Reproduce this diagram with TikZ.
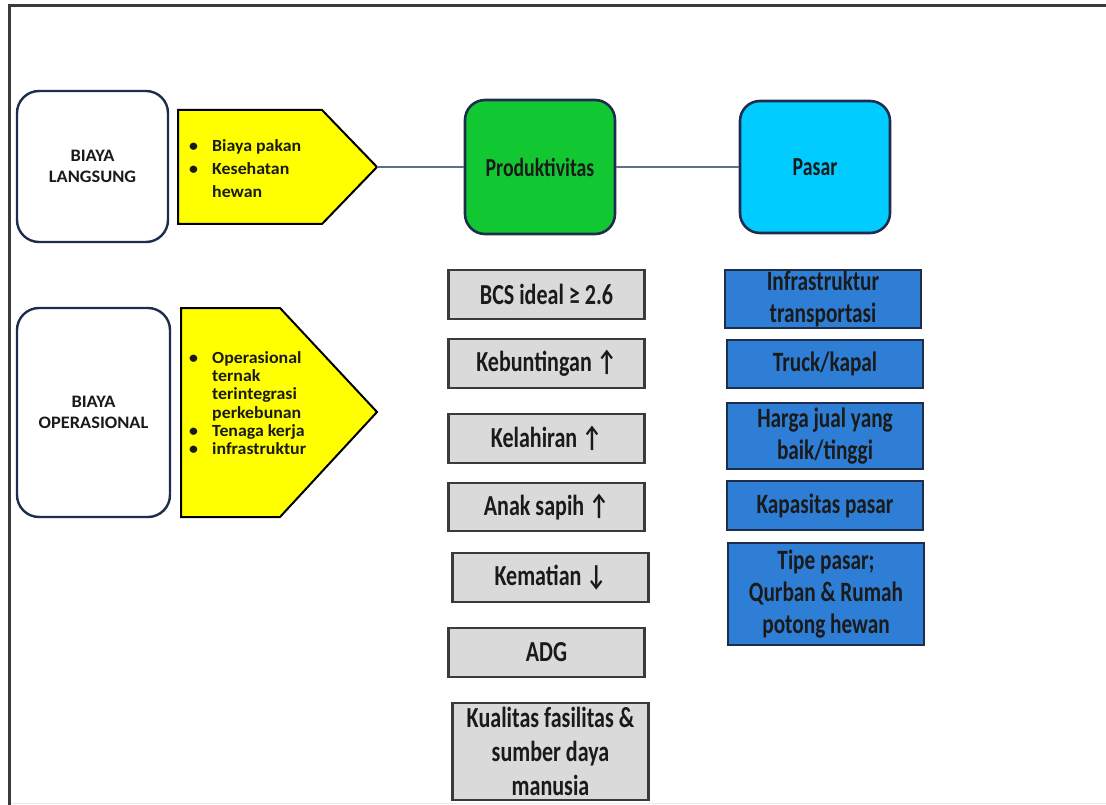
\documentclass[tikz,border=0pt]{standalone}
\usepackage{fontspec}
\setmainfont{Carlito}
\newfontfamily\widefont[FakeStretch=1.05]{Carlito}
\newfontfamily\tallfont[FakeStretch=0.76]{Carlito}
\usetikzlibrary{calc}
\definecolor{ink}{HTML}{1A1A1A}
\definecolor{navy}{HTML}{1F2D4D}
\definecolor{sun}{HTML}{FFFF00}
\definecolor{leaf}{HTML}{12C832}
\definecolor{sky}{HTML}{00CCFF}
\definecolor{steel}{HTML}{2E7ED6}
\definecolor{ash}{HTML}{DADADA}
\definecolor{wire}{HTML}{5D6E8C}
\definecolor{rim}{HTML}{3A3A3A}
\newcommand{\ybul}{\makebox[23pt][l]{\textbullet}}
\newcommand{\yind}{\hspace*{23pt}}

\begin{document}
\begin{tikzpicture}[x=1pt,y=-1pt,
  costbox/.style={draw=navy,line width=2.4pt,rounded corners=22pt,fill=white,inner sep=0pt,align=center,text=ink,font=\widefont\bfseries\fontsize{17.5pt}{21pt}\selectfont},
  headbox/.style={draw=navy,line width=2.6pt,rounded corners=20pt,inner sep=0pt,minimum width=150pt,text=ink,font=\tallfont\bfseries\fontsize{26pt}{30pt}\selectfont},
  graybox/.style={draw=rim,line width=2.4pt,fill=ash,inner sep=0pt,minimum width=196pt,align=center,text=ink,font=\tallfont\bfseries\fontsize{29pt}{34pt}\selectfont},
  bluebox/.style={draw=navy,line width=2.2pt,fill=steel,inner sep=0pt,minimum width=196pt,align=center,text=ink,font=\tallfont\bfseries\fontsize{28pt}{32pt}\selectfont},
  yarrow/.style={draw=black,line width=2pt,fill=sun,line join=miter},
  ytext/.style={inner sep=0pt,align=left,text=ink,font=\widefont\bfseries\fontsize{17pt}{18.3pt}\selectfont},
  link/.style={draw=wire,line width=1.4pt}]
\useasboundingbox (0,0) rectangle (1106,805);
% page frame
\draw[rim,line width=3pt] (9.5,805) -- (9.5,5.5) -- (1106,5.5);
\draw[black!8,line width=1.5pt] (11,803.5) -- (1106,803.5);

% cost side
\node[costbox,minimum width=151pt,minimum height=151pt] (langsung) at (92.5,166.5) {BIAYA\\LANGSUNG};
\node[costbox,minimum width=153pt,minimum height=209pt] (operasional) at (93.5,412.5) {BIAYA\\OPERASIONAL};
\draw[yarrow] (178,110) -- (322,110) -- (377,167) -- (322,224) -- (178,224) -- cycle;
\draw[yarrow] (181,308) -- (280,308) -- (377,412) -- (280,517) -- (181,517) -- cycle;
\coordinate (tip1) at (377,167);
\node[ytext,anchor=west,font=\widefont\bfseries\fontsize{17pt}{23pt}\selectfont] (pakan) at (189,169) {\ybul Biaya pakan\\\ybul Kesehatan\\\yind hewan};
\node[ytext,anchor=west] (ternak) at (189,403) {\ybul Operasional\\\yind ternak\\\yind terintegrasi\\\yind perkebunan\\\ybul Tenaga kerja\\\ybul infrastruktur};

% main boxes
\node[headbox,fill=leaf,minimum height=134pt] (prod) at (540,167) {Produktivitas};
\node[headbox,fill=sky,minimum height=132pt] (pasar) at (815,167) {Pasar};
\draw[link] (tip1) -- (prod);
\draw[link] (prod) -- (pasar);

% productivity items
\foreach \n/\x/\y/\h/\txt in {bcs/546.5/294.5/49/{BCS ideal ≥ 2.6},bunting/546.5/363.5/49/{Kebuntingan ↑},lahir/546.5/438.5/49/{Kelahiran ↑},sapih/546.5/507/48/{Anak sapih ↑},mati/550.5/577.5/49/{Kematian ↓},adg/546.5/652.5/49/{ADG},sdm/550.5/751.5/97/{Kualitas fasilitas \&\\sumber daya\\manusia}}
  \node[graybox,minimum height=\h pt] (\n) at (\x,\y) {\txt};

% market items
\foreach \n/\x/\y/\h/\txt in {infra/823/299/58/{Infrastruktur\\transportasi},truck/825/364/48/{Truck/kapal},harga/825/436/66/{Harga jual yang\\baik/tinggi},kapasitas/825/505.5/49/{Kapasitas pasar},tipe/826/594/102/{Tipe pasar;\\Qurban \& Rumah\\potong hewan}}
  \node[bluebox,minimum height=\h pt] (\n) at (\x,\y) {\txt};
\end{tikzpicture}
\end{document}
